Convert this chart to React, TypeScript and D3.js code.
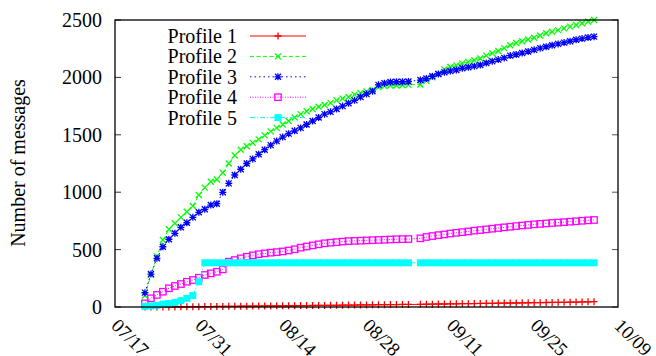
import React from 'react';
import * as d3 from 'd3';

const xTickLabels = ['07/17', '07/31', '08/14', '08/28', '09/11', '09/25', '10/09'];
const yTicks = [0, 500, 1000, 1500, 2000, 2500];
const seriesNames = ['Profile 1', 'Profile 2', 'Profile 3', 'Profile 4', 'Profile 5'];

// daily samples from 07/22 to 10/05 (09/05 missing -> null)
const firstSample = '2008-07-22';
const lastSample = '2008-10-05';

const profile1 = [0,0,0,1,1,1,2,2,3,3, 4,4,5,5,6,6,7,7,8,8, 9,9,10,10,11,11,12,12,13,14, 14,15,15,16,17,17,18,18,19,20, 20,21,21,22,22,null,23,24,25,26, 26,27,28,29,29,30,31,32,32,33, 34,35,35,36,37,38,38,39,40,41, 41,42,43,44,45,46];
const profile2 = [100,280,440,583,677,729,781,830,880,975, 1040,1091,1110,1170,1250,1320,1370,1400,1430,1460, 1495,1530,1560,1590,1620,1650,1680,1705,1725,1745, 1760,1778,1800,1815,1830,1850,1865,1878,1890,1915, 1925,1930,1930,1932,1935,null,1938,1970,2000,2030, 2070,2090,2105,2122,2135,2150,2165,2190,2210,2230, 2255,2280,2300,2315,2330,2345,2365,2384,2398,2412, 2427,2442,2457,2472,2487,2500];
const profile3 = [125,287,424,525,590,642,694,734,781,825, 851,888,900,999,1077,1150,1200,1250,1290,1330, 1370,1410,1445,1480,1510,1535,1560,1590,1620,1650, 1680,1700,1725,1750,1775,1800,1830,1855,1880,1935, 1950,1960,1962,1962,1965,null,1977,1990,2010,2030, 2045,2055,2065,2079,2088,2098,2108,2125,2140,2155, 2170,2190,2200,2212,2225,2240,2255,2267,2280,2292, 2303,2315,2328,2338,2347,2355];
const profile4 = [32,76,105,133,163,183,200,220,235,255, 279,293,307,328,395,409,424,438,450,460, 467,473,478,484,492,503,517,527,537,546, 555,560,565,570,574,576,578,580,582,584, 586,588,590,591,592,null,598,610,618,626, 632,640,646,652,658,665,670,676,682,688, 694,699,705,710,715,720,724,728,732,735, 739,743,747,751,755,758];
const profile5 = [5,10,15,25,30,40,55,75,100,220, 385,385,385,385,385,385,385,385,385,385, 385,385,385,385,385,385,385,385,385,385, 385,385,385,385,385,385,385,385,385,385, 385,385,385,385,385,null,385,385,385,385, 385,385,385,385,385,385,385,385,385,385, 385,385,385,385,385,385,385,385,385,385, 385,385,385,385,385,385];

const styles = [
  { color: '#ff0000', dash: '', marker: 'plus' },
  { color: '#00ff00', dash: '4,2.5', marker: 'cross' },
  { color: '#0000ff', dash: '1.5,3', marker: 'star' },
  { color: '#ff00ff', dash: '1,1.5', marker: 'box' },
  { color: '#00ffff', dash: '5,2,1,2', marker: 'fbox' },
];

const W = 656, H = 356;
const left = 115, right = 618, top = 20, bottom = 307;

function Marker({ x, y, type, color }: { x: number; y: number; type: string; color: string }) {
  const s = 3.5;
  const sw = 1.3;
  if (type === 'plus') {
    return <path d={`M${x - s},${y}H${x + s}M${x},${y - s}V${y + s}`} stroke={color} strokeWidth={sw} fill="none" />;
  }
  if (type === 'cross') {
    const c = 3;
    return <path d={`M${x - c},${y - c}L${x + c},${y + c}M${x - c},${y + c}L${x + c},${y - c}`} stroke={color} strokeWidth={sw} fill="none" />;
  }
  if (type === 'star') {
    const c = 3;
    return <path d={`M${x - s},${y}H${x + s}M${x},${y - s}V${y + s}M${x - c},${y - c}L${x + c},${y + c}M${x - c},${y + c}L${x + c},${y - c}`} stroke={color} strokeWidth={sw} fill="none" />;
  }
  if (type === 'box') {
    return <rect x={x - 3.2} y={y - 3.2} width={6.4} height={6.4} stroke={color} strokeWidth={sw} fill="none" />;
  }
  return <rect x={x - 3.5} y={y - 3.5} width={7} height={7} fill={color} />;
}

export default function App() {
  const tickDates = xTickLabels.map((_, i) => d3.utcDay.offset(new Date('2008-07-17T00:00:00Z'), i * 14));
  const x = d3.scaleUtc().domain([tickDates[0], tickDates[tickDates.length - 1]]).range([left, right]);
  const y = d3.scaleLinear().domain([0, 2500]).range([bottom, top]);
  const data = [profile1, profile2, profile3, profile4, profile5];
  const sampleDates = d3.utcDay.range(new Date(firstSample + 'T00:00:00Z'), d3.utcDay.offset(new Date(lastSample + 'T00:00:00Z'), 1));

  const seriesPts = data.map((arr) =>
    arr
      .map((v, i) => ({ t: sampleDates[i], v }))
      .filter((p) => p.v !== null && p.t) as { t: Date; v: number }[]
  );
  const line = d3.line<{ t: Date; v: number }>().x((p) => x(p.t)).y((p) => y(p.v));
  const font = '"Liberation Serif", "Times New Roman", serif';

  return (
    <svg width={W} height={H} style={{ position: 'absolute', left: 0, top: 0, background: '#fff' }} fontFamily={font}>
      <rect x={0} y={0} width={W} height={H} fill="#fff" />
      <text transform={`translate(25,163) rotate(-90)`} textAnchor="middle" fontSize={20} fill="#000">Number of messages</text>
      {yTicks.map((t) => (
        <g key={t}>
          <line x1={left} x2={left + 6} y1={y(t)} y2={y(t)} stroke="#333" strokeWidth={1} />
          <line x1={right - 6} x2={right} y1={y(t)} y2={y(t)} stroke="#555" strokeWidth={1} />
          <text x={102} y={y(t)} dy="0.35em" textAnchor="end" fontSize={20} fill="#000">{t}</text>
        </g>
      ))}
      {xTickLabels.map((lab, i) => (
        <text key={lab} transform={`translate(${x(tickDates[i])},322) rotate(45)`} dy="0.35em" textAnchor="start" fontSize={19} fill="#000">{lab}</text>
      ))}
      {seriesPts.map((pts, si) => (
        <g key={si}>
          <path d={line(pts) || ''} fill="none" stroke={styles[si].color} strokeWidth={1} strokeDasharray={styles[si].dash || undefined} />
          {pts.map((p, j) => (
            <Marker key={j} x={x(p.t)} y={y(p.v)} type={styles[si].marker} color={styles[si].color} />
          ))}
        </g>
      ))}
      <rect x={left} y={top} width={right - left} height={bottom - top} fill="none" stroke="#000" strokeWidth={1.3} />
      {seriesNames.map((name, i) => {
        const ly = 36 + i * 20.4;
        return (
          <g key={name}>
            <text x={237} y={ly} dy="0.35em" textAnchor="end" fontSize={20} fill="#000">{name}</text>
            <line x1={250} x2={306} y1={ly} y2={ly} stroke={styles[i].color} strokeWidth={1} strokeDasharray={styles[i].dash || undefined} />
            <Marker x={278} y={ly} type={styles[i].marker} color={styles[i].color} />
          </g>
        );
      })}
    </svg>
  );
}
